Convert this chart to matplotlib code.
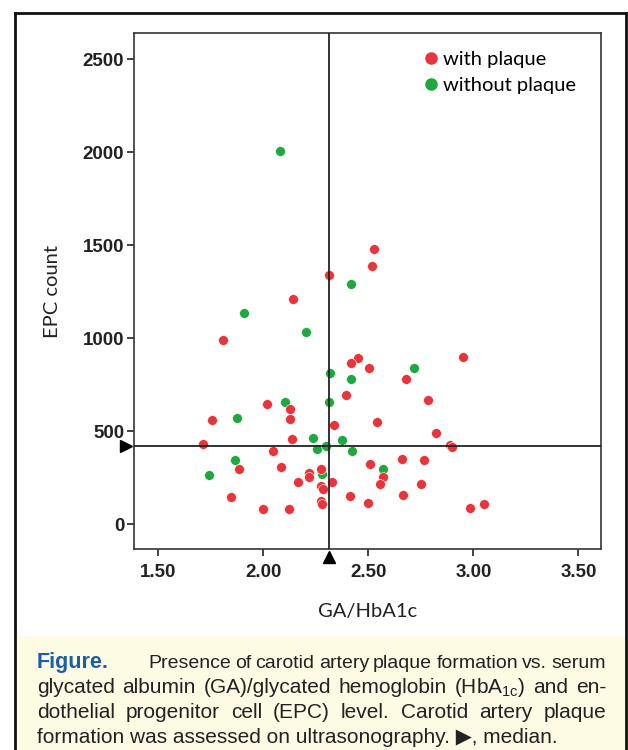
import numpy as np
import matplotlib
import matplotlib.pyplot as plt
import matplotlib.transforms as mtransforms
from matplotlib.lines import Line2D
from matplotlib.patches import Rectangle

plt.rcParams['mathtext.fontset'] = 'custom'
plt.rcParams['mathtext.rm'] = 'Liberation Sans'

# with plaque (red)
plaque_x = [2.529, 2.519, 2.313, 2.143, 1.807, 2.451, 2.419, 2.505, 2.681, 2.949,
            2.783, 2.821, 2.890, 2.900, 2.662, 2.765, 2.752, 2.667, 2.983, 3.050,
            2.395, 2.540, 2.338, 2.508, 2.569, 2.556, 2.275, 2.219, 2.219, 2.327,
            2.273, 2.283, 2.411, 2.500, 2.276, 2.280, 2.165, 2.016, 2.129, 2.126,
            1.757, 2.138, 1.711, 2.046, 1.883, 2.083, 1.846, 2.000, 2.121]
plaque_y = [1478, 1385, 1340, 1211, 989, 894, 867, 839, 782, 898,
            665, 489, 425, 413, 348, 342, 215, 157, 88, 108,
            692, 550, 530, 323, 251, 215, 294, 272, 254, 224,
            204, 187, 152, 111, 125, 108, 224, 643, 618, 563,
            557, 459, 428, 391, 297, 306, 147, 81, 81]

# without plaque (green)
noplaque_x = [2.081, 2.419, 1.908, 2.202, 2.716, 2.316, 2.419, 2.313, 2.238, 2.376,
              2.257, 2.297, 2.424, 2.571, 2.280, 2.105, 1.875, 1.865, 1.741]
noplaque_y = [2004, 1290, 1136, 1032, 839, 813, 778, 654, 461, 450,
              403, 419, 394, 294, 269, 658, 568, 342, 262]

median_x = 2.313
median_y = 419

x_ticks = [1.5, 2.0, 2.5, 3.0, 3.5]
y_ticks = [0, 500, 1000, 1500, 2000, 2500]

W, H = 628, 750
fig = plt.figure(figsize=(W / 100, H / 100), dpi=100)
ax = fig.add_axes([134 / W, 1 - 549 / H, (601 - 134) / W, (549 - 33) / H])

red = '#e8353b'
green = '#1fa83e'
ax.scatter(noplaque_x, noplaque_y, s=50, color=green, edgecolor='white', linewidth=0.4, zorder=3)
ax.scatter(plaque_x, plaque_y, s=50, color=red, edgecolor='white', linewidth=0.4, zorder=3)

ax.axhline(median_y, color='#222222', lw=1.3, zorder=4)
ax.axvline(median_x, color='#222222', lw=1.3, zorder=4)

ax.set_xlim(1.384, 3.608)
ax.set_ylim(-134, 2640)
ax.set_xticks(x_ticks)
ax.set_xticklabels(['%.2f' % v for v in x_ticks])
ax.set_yticks(y_ticks)
ax.set_yticklabels([str(v) for v in y_ticks])
ax.tick_params(direction='out', length=5, width=1.2, colors='#222222', pad=2)
ax.tick_params(axis='x', pad=6)
for lab in ax.get_xticklabels() + ax.get_yticklabels():
    lab.set_fontfamily('Liberation Sans')
    lab.set_fontsize(13.5)
    lab.set_fontweight('bold')
for sp in ax.spines.values():
    sp.set_linewidth(1.2)
    sp.set_color('#333333')

ax.set_xlabel('GA/HbA1c', fontfamily='Lato', fontsize=14.5, labelpad=16, color='#222222')
ax.set_ylabel('EPC count', fontfamily='Lato', fontsize=14.5, labelpad=16, color='#222222')

# median markers outside the axes
bx = mtransforms.blended_transform_factory(ax.transData, ax.transAxes)
by = mtransforms.blended_transform_factory(ax.transAxes, ax.transData)
ax.plot([median_x], [-0.016], marker='^', ms=9, color='black', transform=bx, clip_on=False)
ax.plot([-0.017], [median_y], marker='>', ms=9, color='black', transform=by, clip_on=False)

handles = [Line2D([], [], ls='', marker='o', ms=8, color=red),
           Line2D([], [], ls='', marker='o', ms=8, color=green)]
ax.legend(handles, ['with plaque', 'without plaque'], loc='upper left',
          bbox_to_anchor=(0.579, 1.0), frameon=False, handlelength=0.8,
          handletextpad=0.2, labelspacing=0.42, prop={'family': 'Lato', 'size': 14.5})

# frame and caption box
fig.patches.append(Rectangle((16 / W, 0), (625 - 16) / W, (750 - 636) / H,
                             transform=fig.transFigure, facecolor='#fdfbe4',
                             edgecolor='none', zorder=0))
for xs, ys in [([15, 15], [750, 13]), ([15, 626], [13, 13]), ([626, 626], [13, 750])]:
    fig.add_artist(Line2D([x / W for x in xs], [1 - y / H for y in ys],
                          transform=fig.transFigure, color='#111111', lw=2))

renderer = fig.canvas.get_renderer()
cap_kw = dict(fontfamily=['Liberation Sans', 'DejaVu Sans'], color='#222222', va='baseline')


def justify(words, x0, x1, ybase, size=15):
    ts = [fig.text(0, 1 - ybase / H, w, fontsize=size, **cap_kw) for w in words]
    widths = [t.get_window_extent(renderer).width for t in ts]
    gap = (x1 - x0 - sum(widths)) / (len(words) - 1)
    x = x0
    for t, w in zip(ts, widths):
        t.set_x(x / W)
        x += w + gap


fig.text(37 / W, 1 - 668 / H, 'Figure.', fontfamily='Liberation Sans', fontsize=15.5,
         fontweight='bold', color='#1b5fac', va='baseline')
justify('Presence of carotid artery plaque formation vs. serum'.split(), 148, 606, 668, size=14)
justify(['glycated', 'albumin', '(GA)/glycated', 'hemoglobin', r'(HbA$_{\mathrm{1c}}$)', 'and', 'en-'],
        37, 606, 693)
justify('dothelial progenitor cell (EPC) level. Carotid artery plaque'.split(), 37, 606, 718)
fig.text(37 / W, 1 - 743 / H, 'formation was assessed on ultrasonography. \u25b6, median.',
         fontsize=15, **cap_kw)

fig.savefig('out.png', dpi=100)
